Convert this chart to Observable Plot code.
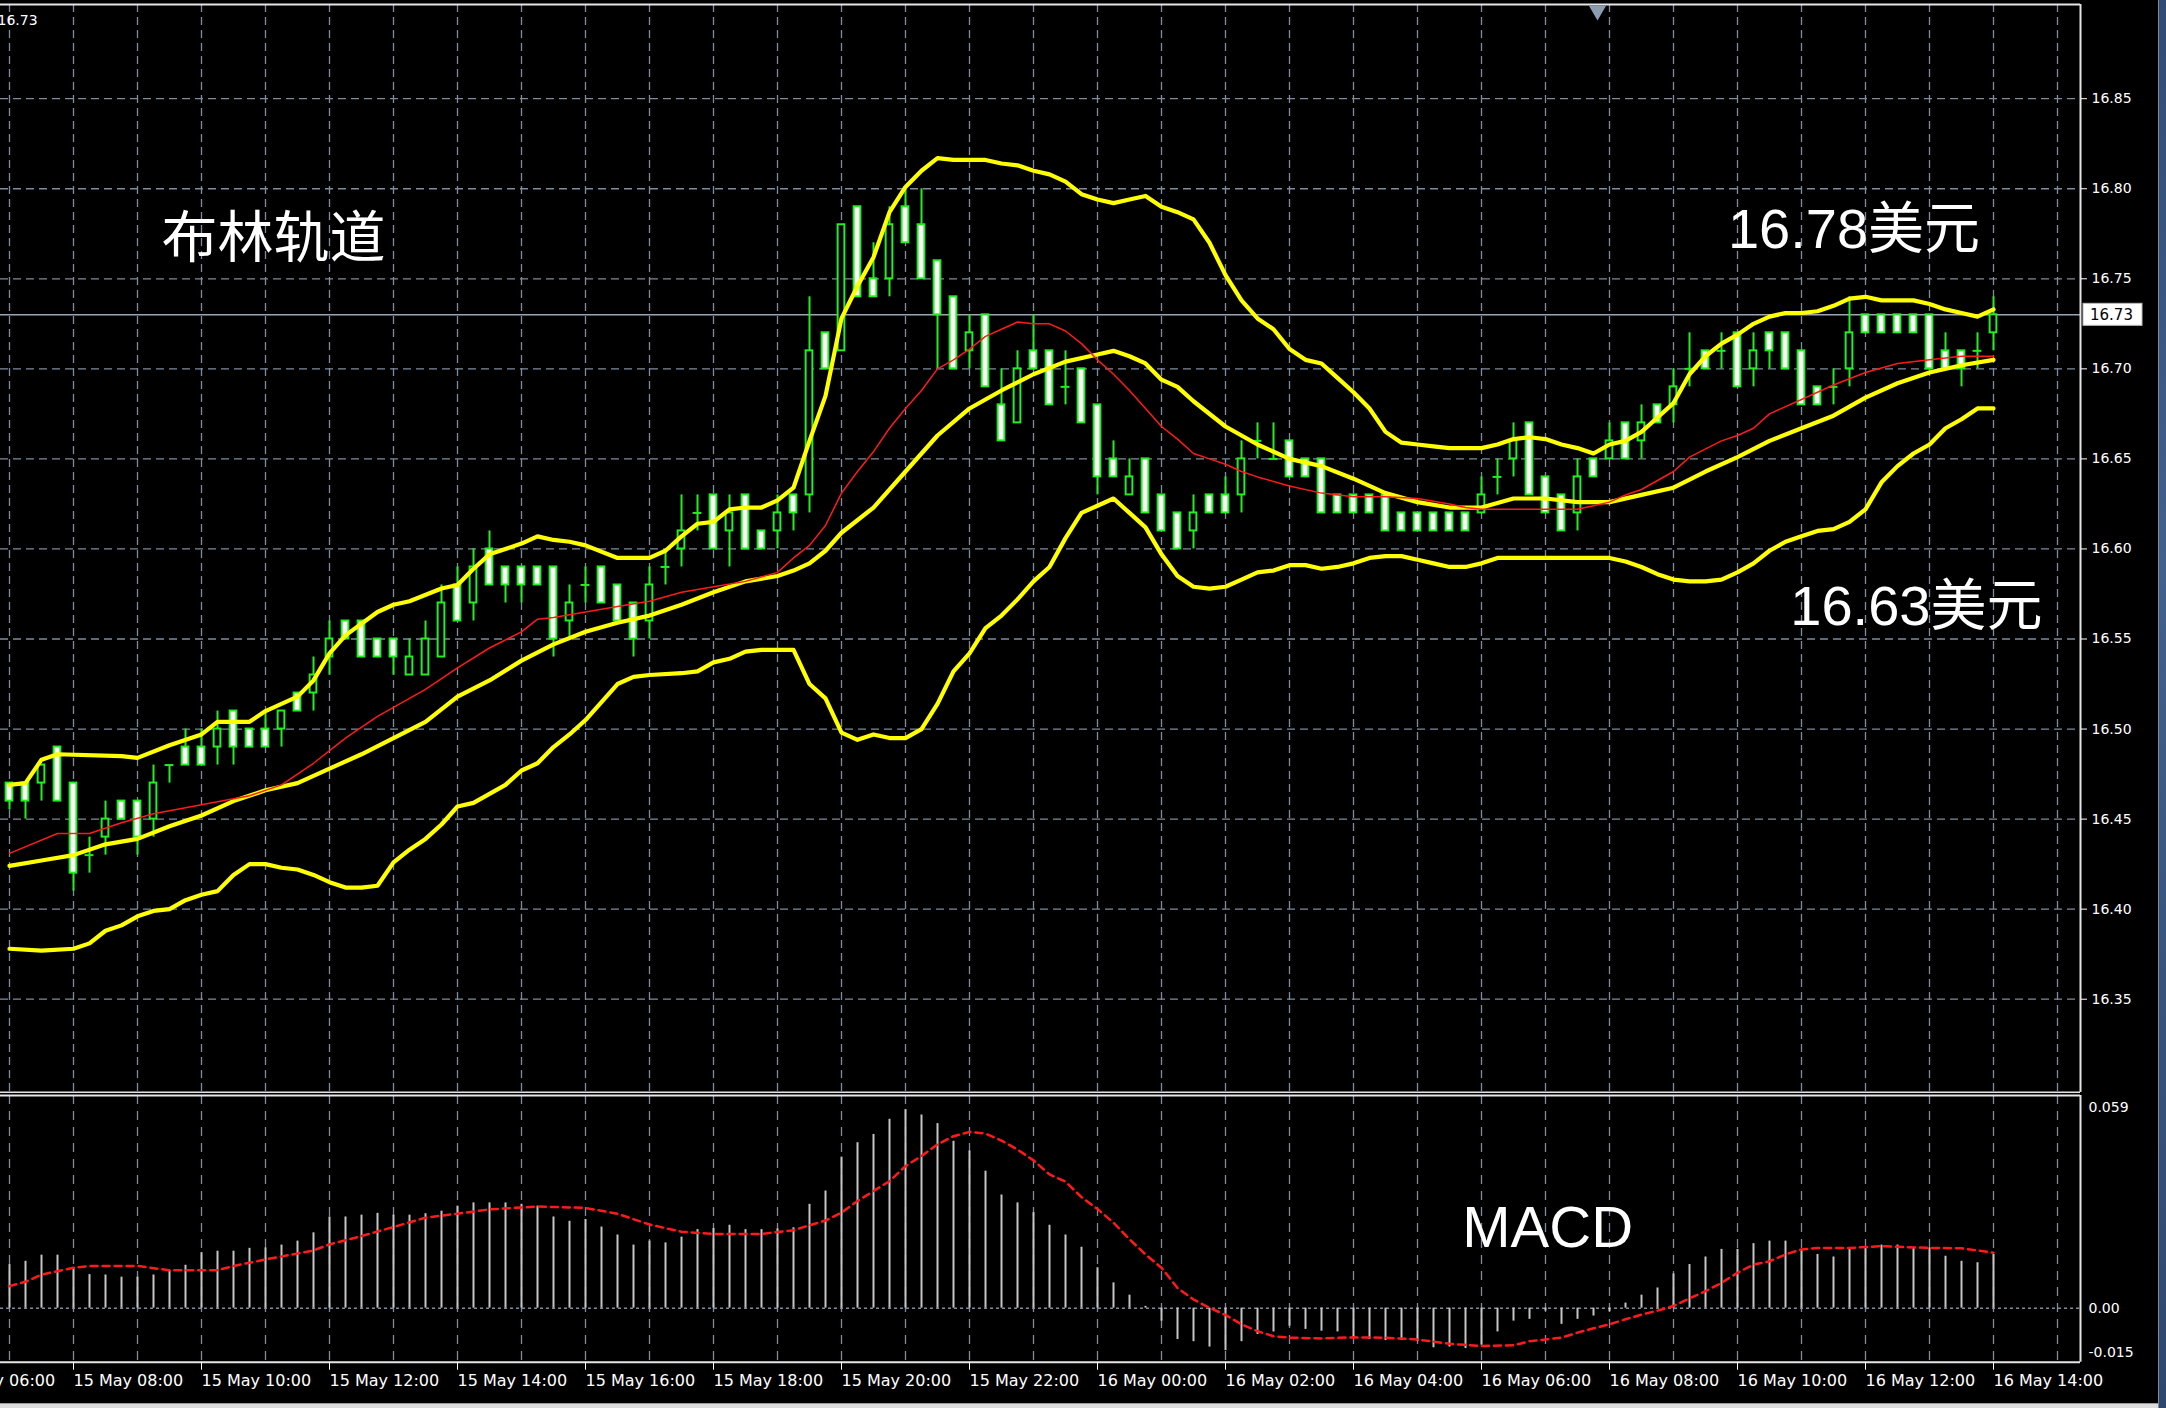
<!DOCTYPE html>
<html>
<head>
<meta charset="utf-8">
<script src="https://cdn.jsdelivr.net/npm/d3@7"></script>
<script src="https://cdn.jsdelivr.net/npm/@observablehq/plot@0.6"></script>
<style>
html, body { margin: 0; padding: 0; background: #000; }
#wrap { position: relative; width: 2166px; height: 1408px; background: #000; overflow: hidden; }
#main { position: absolute; left: 0; top: 0; }
#macd { position: absolute; left: 0; top: 1093px; }
#edge { position: absolute; left: 2158px; top: 0; width: 8px; height: 1408px; border-left: 1px solid #8a8a8a; background: linear-gradient(180deg, #2e4a78, #40608f 40%, #2c4670); }
#foot { position: absolute; left: 0; top: 1403px; width: 2158px; height: 5px; border-top: 1px solid #9a9a9a; background: #dcdcdc; }
</style>
</head>
<body>
<div id="wrap"><div id="main"></div><div id="macd"></div><div id="foot"></div><div id="edge"></div></div>
<script>
// ---------- DATA (15-minute bars, 15 May 07:00 -> 16 May 14:00) ----------
const open = [
16.47,16.47,16.47,16.49,16.47,16.43,16.44,16.46,16.46,16.45,
16.48,16.49,16.49,16.49,16.51,16.50,16.50,16.50,16.52,16.52,
16.54,16.56,16.56,16.55,16.55,16.53,16.53,16.54,16.58,16.57,
16.60,16.59,16.59,16.59,16.59,16.56,16.58,16.59,16.58,16.57,
16.56,16.59,16.60,16.62,16.63,16.61,16.63,16.61,16.61,16.63,
16.63,16.72,16.71,16.79,16.75,16.75,16.79,16.78,16.76,16.74,
16.71,16.73,16.68,16.67,16.71,16.71,16.69,16.70,16.68,16.65,
16.63,16.65,16.63,16.62,16.61,16.63,16.63,16.63,16.66,16.65,
16.66,16.65,16.65,16.63,16.63,16.63,16.63,16.62,16.62,16.62,
16.62,16.62,16.62,16.64,16.65,16.67,16.64,16.63,16.62,16.65,
16.65,16.67,16.66,16.68,16.68,16.70,16.71,16.71,16.72,16.70,
16.72,16.72,16.71,16.69,16.69,16.70,16.73,16.73,16.73,16.73,
16.73,16.71,16.71,16.71,16.72];
const high = [
16.47,16.47,16.48,16.49,16.47,16.44,16.46,16.46,16.46,16.48,
16.48,16.50,16.50,16.51,16.51,16.50,16.51,16.51,16.52,16.54,
16.56,16.56,16.56,16.55,16.55,16.55,16.56,16.58,16.59,16.60,
16.61,16.59,16.59,16.59,16.59,16.58,16.59,16.59,16.58,16.57,
16.59,16.60,16.63,16.63,16.63,16.63,16.63,16.61,16.63,16.63,
16.74,16.72,16.78,16.79,16.77,16.79,16.80,16.80,16.76,16.74,
16.73,16.73,16.70,16.71,16.73,16.71,16.71,16.70,16.68,16.66,
16.65,16.65,16.63,16.62,16.63,16.63,16.64,16.66,16.67,16.67,
16.66,16.65,16.65,16.63,16.63,16.63,16.63,16.62,16.62,16.62,
16.62,16.62,16.64,16.65,16.67,16.67,16.64,16.63,16.65,16.65,
16.67,16.67,16.68,16.68,16.70,16.72,16.71,16.72,16.72,16.72,
16.72,16.72,16.71,16.69,16.70,16.74,16.73,16.73,16.73,16.73,
16.73,16.72,16.71,16.72,16.74];
const low = [
16.455,16.45,16.46,16.46,16.41,16.42,16.43,16.45,16.43,16.44,
16.47,16.48,16.48,16.48,16.48,16.49,16.49,16.49,16.51,16.51,
16.53,16.55,16.54,16.54,16.53,16.53,16.53,16.54,16.56,16.56,
16.58,16.57,16.57,16.58,16.54,16.55,16.57,16.57,16.56,16.54,
16.55,16.58,16.59,16.61,16.60,16.59,16.60,16.60,16.60,16.61,
16.62,16.70,16.71,16.74,16.74,16.74,16.77,16.75,16.70,16.70,
16.70,16.69,16.66,16.67,16.70,16.68,16.68,16.67,16.63,16.64,
16.63,16.62,16.61,16.60,16.60,16.62,16.62,16.62,16.65,16.65,
16.64,16.64,16.62,16.62,16.62,16.62,16.61,16.61,16.61,16.61,
16.61,16.61,16.62,16.63,16.64,16.63,16.62,16.61,16.61,16.64,
16.65,16.65,16.65,16.67,16.67,16.69,16.70,16.70,16.69,16.69,
16.70,16.70,16.68,16.68,16.68,16.69,16.72,16.72,16.72,16.72,
16.70,16.70,16.69,16.70,16.71];
const close = [
16.46,16.46,16.48,16.46,16.42,16.43,16.45,16.45,16.44,16.47,
16.48,16.48,16.48,16.50,16.49,16.49,16.49,16.51,16.51,16.53,
16.55,16.55,16.54,16.54,16.54,16.54,16.55,16.57,16.56,16.59,
16.58,16.58,16.58,16.58,16.55,16.57,16.58,16.57,16.56,16.55,
16.58,16.59,16.61,16.62,16.60,16.62,16.60,16.60,16.62,16.62,
16.71,16.70,16.78,16.74,16.74,16.78,16.77,16.75,16.73,16.70,
16.72,16.69,16.66,16.70,16.70,16.68,16.69,16.67,16.64,16.64,
16.64,16.62,16.61,16.60,16.62,16.62,16.62,16.65,16.66,16.65,
16.64,16.64,16.62,16.62,16.62,16.62,16.61,16.61,16.61,16.61,
16.61,16.61,16.63,16.64,16.66,16.63,16.62,16.61,16.64,16.64,
16.66,16.65,16.67,16.67,16.69,16.70,16.70,16.71,16.69,16.71,
16.71,16.70,16.68,16.68,16.69,16.72,16.72,16.72,16.72,16.72,
16.70,16.70,16.70,16.71,16.73];

// Bollinger bands and moving average, read as [bar, price]
const upperBand = [[0,16.469],[1,16.470],[2,16.483],[3,16.486],[7,16.485],[8,16.484],[10,16.491],[12,16.497],[13,16.504],[15,16.504],[16,16.510],[18,16.518],[19,16.527],[20,16.542],[21,16.552],[23,16.565],[24,16.569],[25,16.571],[27,16.578],[28,16.580],[29,16.589],[30,16.597],[32,16.603],[33,16.607],[34,16.605],[35,16.604],[36,16.602],[38,16.595],[40,16.595],[41,16.599],[42,16.607],[43,16.614],[44,16.615],[45,16.622],[46,16.623],[47,16.623],[48,16.627],[49,16.634],[50,16.660],[51,16.685],[52,16.728],[53,16.746],[54,16.762],[55,16.787],[56,16.801],[57,16.810],[58,16.817],[59,16.816],[60,16.816],[61,16.816],[62,16.814],[63,16.813],[64,16.810],[65,16.808],[66,16.804],[67,16.797],[68,16.794],[69,16.792],[70,16.794],[71,16.796],[72,16.790],[73,16.787],[74,16.783],[75,16.770],[76,16.752],[77,16.738],[78,16.728],[79,16.722],[80,16.711],[81,16.705],[82,16.703],[83,16.695],[84,16.687],[85,16.678],[86,16.665],[87,16.659],[88,16.658],[89,16.657],[90,16.656],[92,16.656],[93,16.658],[94,16.661],[95,16.662],[96,16.661],[97,16.658],[98,16.656],[99,16.653],[100,16.658],[101,16.660],[102,16.665],[103,16.673],[104,16.681],[105,16.697],[106,16.707],[107,16.714],[108,16.719],[109,16.725],[110,16.729],[111,16.731],[112,16.731],[113,16.732],[114,16.735],[115,16.739],[116,16.740],[117,16.738],[118,16.738],[119,16.738],[120,16.736],[121,16.733],[122,16.731],[123,16.729],[124,16.733]];
const middleBand = [[0,16.424],[2,16.427],[4,16.430],[6,16.436],[8,16.439],[10,16.446],[12,16.452],[14,16.460],[16,16.466],[18,16.470],[20,16.478],[22,16.486],[24,16.495],[26,16.504],[28,16.518],[30,16.527],[32,16.538],[34,16.547],[36,16.554],[38,16.559],[40,16.563],[42,16.569],[44,16.576],[46,16.582],[48,16.585],[49,16.588],[50,16.592],[51,16.599],[52,16.609],[54,16.623],[56,16.643],[58,16.663],[60,16.678],[62,16.688],[64,16.697],[66,16.704],[68,16.708],[69,16.710],[70,16.707],[71,16.703],[72,16.694],[73,16.690],[74,16.682],[76,16.668],[78,16.658],[80,16.650],[82,16.646],[84,16.639],[86,16.631],[88,16.626],[90,16.623],[92,16.623],[94,16.628],[96,16.628],[98,16.626],[100,16.626],[102,16.630],[104,16.634],[106,16.643],[108,16.651],[110,16.660],[112,16.667],[114,16.674],[116,16.684],[118,16.692],[120,16.698],[122,16.702],[124,16.705]];
const lowerBand = [[0,16.378],[2,16.377],[4,16.378],[5,16.381],[6,16.388],[7,16.391],[8,16.396],[9,16.399],[10,16.400],[11,16.405],[12,16.408],[13,16.410],[14,16.419],[15,16.425],[16,16.425],[17,16.423],[18,16.422],[19,16.419],[20,16.415],[21,16.412],[22,16.412],[23,16.413],[24,16.426],[25,16.433],[26,16.439],[27,16.447],[28,16.457],[29,16.459],[30,16.464],[31,16.469],[32,16.477],[33,16.481],[34,16.490],[35,16.497],[36,16.505],[37,16.515],[38,16.525],[39,16.529],[40,16.530],[42,16.531],[43,16.532],[44,16.537],[45,16.539],[46,16.543],[47,16.544],[48,16.544],[49,16.544],[50,16.525],[51,16.517],[52,16.498],[53,16.494],[54,16.497],[55,16.495],[56,16.495],[57,16.500],[58,16.514],[59,16.532],[60,16.542],[61,16.556],[62,16.563],[63,16.572],[64,16.582],[65,16.590],[66,16.606],[67,16.620],[68,16.624],[69,16.628],[70,16.620],[71,16.612],[72,16.597],[73,16.585],[74,16.579],[75,16.578],[76,16.579],[77,16.583],[78,16.587],[79,16.588],[80,16.591],[81,16.591],[82,16.589],[83,16.590],[84,16.592],[85,16.595],[86,16.596],[87,16.596],[88,16.594],[89,16.592],[90,16.590],[91,16.590],[92,16.592],[93,16.595],[96,16.595],[98,16.595],[100,16.595],[101,16.593],[102,16.590],[103,16.586],[104,16.583],[105,16.582],[106,16.582],[107,16.583],[108,16.587],[109,16.592],[110,16.599],[111,16.604],[112,16.607],[113,16.610],[114,16.611],[115,16.615],[116,16.622],[117,16.637],[118,16.646],[119,16.653],[120,16.658],[121,16.667],[122,16.672],[123,16.678],[124,16.678]];
const movingAverage = [[0,16.431],[3,16.442],[5,16.442],[7,16.448],[9,16.453],[12,16.458],[15,16.463],[17,16.469],[19,16.481],[21,16.495],[23,16.507],[26,16.522],[28,16.534],[30,16.545],[32,16.554],[33,16.561],[34,16.562],[36,16.565],[38,16.568],[40,16.571],[42,16.576],[44,16.579],[46,16.582],[48,16.587],[49,16.595],[50,16.602],[51,16.613],[52,16.631],[53,16.643],[54,16.654],[55,16.667],[56,16.678],[57,16.688],[58,16.700],[59,16.705],[60,16.711],[61,16.718],[62,16.722],[63,16.726],[64,16.725],[65,16.725],[66,16.721],[67,16.714],[68,16.705],[69,16.697],[70,16.688],[71,16.678],[72,16.668],[73,16.661],[74,16.653],[75,16.650],[76,16.647],[77,16.643],[78,16.640],[80,16.635],[82,16.631],[84,16.629],[86,16.629],[88,16.628],[90,16.625],[91,16.623],[92,16.622],[98,16.622],[99,16.624],[100,16.626],[101,16.630],[102,16.633],[104,16.643],[105,16.651],[107,16.660],[108,16.663],[109,16.667],[110,16.675],[112,16.683],[113,16.687],[114,16.691],[116,16.698],[118,16.703],[120,16.705],[122,16.707],[124,16.707]];

// MACD histogram (one value per bar) and signal line [bar, value]
const macdHistogram = [
0.0121,0.0130,0.0147,0.0147,0.0112,0.0093,0.0092,0.0086,0.0086,0.0092,
0.0105,0.0119,0.0154,0.0158,0.0158,0.0166,0.0167,0.0175,0.0186,0.0209,
0.0253,0.0253,0.0258,0.0263,0.0258,0.0258,0.0262,0.0269,0.0283,0.0292,
0.0292,0.0292,0.0288,0.0283,0.0253,0.0241,0.0246,0.0225,0.0203,0.0175,
0.0186,0.0181,0.0197,0.0218,0.0221,0.0230,0.0218,0.0218,0.0220,0.0223,
0.0288,0.0325,0.0419,0.0459,0.0482,0.0524,0.0551,0.0536,0.0512,0.0463,
0.0436,0.0380,0.0314,0.0292,0.0265,0.0230,0.0203,0.0169,0.0112,0.0070,
0.0036,0.0005,-0.0036,-0.0087,-0.0093,-0.0108,-0.0118,-0.0093,-0.0073,-0.0066,
-0.0050,-0.0059,-0.0064,-0.0066,-0.0082,-0.0087,-0.0090,-0.0090,-0.0093,-0.0110,
-0.0108,-0.0112,-0.0103,-0.0066,-0.0036,-0.0031,-0.0008,-0.0045,-0.0031,-0.0022,
-0.0010,0.0014,0.0036,0.0056,0.0095,0.0121,0.0142,0.0163,0.0163,0.0179,
0.0186,0.0186,0.0160,0.0149,0.0142,0.0167,0.0167,0.0175,0.0175,0.0167,
0.0167,0.0144,0.0130,0.0126,0.0149];
const macdSignal = [[0,0.0061],[1,0.0073],[2,0.0093],[4,0.0112],[5,0.0117],[8,0.0117],[10,0.0105],[13,0.0105],[14,0.0117],[16,0.0135],[19,0.0160],[20,0.0177],[22,0.0200],[24,0.0225],[26,0.0251],[28,0.0262],[30,0.0274],[33,0.0282],[36,0.0278],[38,0.0262],[40,0.0232],[42,0.0212],[44,0.0206],[47,0.0206],[49,0.0216],[50,0.0230],[51,0.0243],[52,0.0265],[53,0.0297],[54,0.0325],[55,0.0352],[56,0.0394],[57,0.0422],[58,0.0454],[59,0.0477],[60,0.0489],[61,0.0484],[62,0.0465],[63,0.0440],[64,0.0410],[65,0.0371],[66,0.0351],[67,0.0308],[68,0.0275],[69,0.0237],[70,0.0191],[71,0.0149],[72,0.0112],[73,0.0056],[74,0.0024],[75,0.0001],[76,-0.0019],[77,-0.0045],[78,-0.0064],[79,-0.0078],[80,-0.0082],[82,-0.0084],[84,-0.0081],[86,-0.0082],[88,-0.0087],[90,-0.0099],[92,-0.0105],[94,-0.0103],[95,-0.0092],[96,-0.0087],[97,-0.0082],[98,-0.0068],[99,-0.0056],[100,-0.0045],[101,-0.0031],[102,-0.0018],[103,-0.0007],[104,0.0006],[105,0.0027],[106,0.0047],[107,0.0070],[108,0.0098],[109,0.0121],[110,0.0130],[111,0.0149],[112,0.0163],[113,0.0167],[115,0.0167],[117,0.0172],[120,0.0167],[122,0.0166],[124,0.0154]];

// Axis ticks and labels
const priceTicks = [16.35, 16.40, 16.45, 16.50, 16.55, 16.60, 16.65, 16.70, 16.75, 16.80, 16.85];
const timeTickLabels = ["15 May 06:00","15 May 08:00","15 May 10:00","15 May 12:00","15 May 14:00","15 May 16:00","15 May 18:00","15 May 20:00","15 May 22:00","16 May 00:00","16 May 02:00","16 May 04:00","16 May 06:00","16 May 08:00","16 May 10:00","16 May 12:00","16 May 14:00"];
const macdTicks = [0.059, 0, -0.015];
const macdTickLabels = ["0.059", "0.00", "-0.015"];
const chartShiftBar = [99.25];

// Annotations (anchored at bar, value)
const priceNotes = [
  {text: "布林轨道", bar: 9.5, price: 16.772},
  {text: "16.78美元", bar: 107.4, price: 16.777},
  {text: "16.63美元", bar: 111.3, price: 16.568}
];
const macdNotes = [{text: "MACD", bar: 90.8, value: 0.0221}];

// ---------- CHART ----------
const lime = "#22ee22", yellow = "#ffff00", red = "#ff1a1a", gridColor = "#7d8c9e", frameColor = "#e6e6e6";
const START = Date.UTC(2017, 4, 15, 7, 0);
const STEP = 15 * 60 * 1000;
const barTime = i => new Date(START + i * STEP);
const shiftSec = (t, s) => new Date(+t + s * 1000);
const xDomain = [barTime(-0.5625), barTime(129.4375)];
const hours = d3.utcHour.range(barTime(0), barTime(128.5));
const parseLabel = d3.utcParse("%d %b %H:%M %Y");
const tickDates = timeTickLabels.map(s => parseLabel(s + " 2017"));
const labelByTime = new Map(tickDates.map((d, k) => [+d, timeTickLabels[k]]));

const candles = close.map((c, i) => ({t: barTime(i), open: open[i], high: high[i], low: low[i], close: c}));
const bull = candles.filter(d => d.close > d.open);
const bear = candles.filter(d => d.close < d.open);
const doji = candles.filter(d => d.close === d.open);
const asLine = arr => arr.map(([i, v]) => ({t: barTime(i), v}));
const lastClose = close[close.length - 1];

const yDomain = [16.2982, 16.9023];
const txtFont = "'Liberation Sans', 'Noto Sans CJK SC', sans-serif";

const main = Plot.plot({
  width: 2166, height: 1093,
  marginLeft: 0, marginRight: 86, marginTop: 4, marginBottom: 1,
  style: {background: "#000", color: "#fff", fontFamily: "'DejaVu Sans', sans-serif", overflow: "hidden"},
  x: {type: "utc", domain: xDomain, axis: null},
  y: {domain: yDomain, axis: null},
  marks: [
    Plot.ruleY(priceTicks, {stroke: gridColor, strokeWidth: 1.3, strokeDasharray: "8,5"}),
    Plot.ruleX(hours, {stroke: gridColor, strokeWidth: 1.3, strokeDasharray: "8,5"}),
    Plot.ruleY([lastClose], {stroke: "#9aa6b4", strokeWidth: 1.5}),
    Plot.ruleX(candles, {x: "t", y1: "low", y2: "high", stroke: lime, strokeWidth: 2}),
    Plot.rect(bear, {x1: d => shiftSec(d.t, -190), x2: d => shiftSec(d.t, 190), y1: "open", y2: "close", fill: "#fff", stroke: lime, strokeWidth: 2}),
    Plot.rect(bull, {x1: d => shiftSec(d.t, -190), x2: d => shiftSec(d.t, 190), y1: "open", y2: "close", fill: "#000", stroke: lime, strokeWidth: 2}),
    Plot.ruleY(doji, {y: "close", x1: d => shiftSec(d.t, -250), x2: d => shiftSec(d.t, 250), stroke: lime, strokeWidth: 2}),
    Plot.line(asLine(upperBand), {x: "t", y: "v", stroke: yellow, strokeWidth: 4.2}),
    Plot.line(asLine(middleBand), {x: "t", y: "v", stroke: yellow, strokeWidth: 4.2}),
    Plot.line(asLine(lowerBand), {x: "t", y: "v", stroke: yellow, strokeWidth: 4.2}),
    Plot.line(asLine(movingAverage), {x: "t", y: "v", stroke: red, strokeWidth: 1.5}),
    Plot.ruleY([yDomain[1]], {stroke: frameColor, strokeWidth: 2}),
    Plot.ruleY([yDomain[0]], {stroke: frameColor, strokeWidth: 2}),
    Plot.ruleX([xDomain[1]], {stroke: frameColor, strokeWidth: 2}),
    Plot.dot(chartShiftBar, {x: d => barTime(d), frameAnchor: "top", dy: 6, symbol: "triangle", rotate: 180, r: 6.5, fill: "#8b9bb0", stroke: "none"}),
    Plot.axisY({anchor: "right", ticks: priceTicks, tickFormat: d => d.toFixed(2), tickSize: 6, tickPadding: 5, fontSize: 14, label: null}),
    Plot.text(priceNotes, {x: d => barTime(d.bar), y: "price", text: "text", textAnchor: "start", lineAnchor: "middle", fontSize: 56, fill: "#fff", fontFamily: txtFont}),
    Plot.text([lastClose], {frameAnchor: "top-left", text: d => d.toFixed(2), textAnchor: "start", dx: -3, dy: 11, fontSize: 14, fill: "#fff"})
  ]
});

// current price box on the axis
{
  const svg = d3.select(main);
  const yS = main.scale("y"), xS = main.scale("x");
  const py = yS.apply(lastClose), px = xS.range[1];
  const g = svg.append("g");
  g.append("rect").attr("x", px + 3).attr("y", py - 11).attr("width", 59).attr("height", 22).attr("fill", "#fff").attr("stroke", "#bbb");
  g.append("text").attr("x", px + 10).attr("y", py).attr("dy", "0.35em").attr("text-anchor", "start").attr("font-size", 15).attr("font-family", "DejaVu Sans").attr("fill", "#000").text(lastClose.toFixed(2));
}
document.getElementById("main").appendChild(main);

const macdLabelData = macdTicks.map((v, k) => ({v, label: macdTickLabels[k]}));
const macd = Plot.plot({
  width: 2166, height: 315,
  marginLeft: 0, marginRight: 86, marginTop: 2, marginBottom: 46.3,
  style: {background: "#000", color: "#fff", fontFamily: "'DejaVu Sans', sans-serif", overflow: "hidden"},
  x: {type: "utc", domain: xDomain, axis: null},
  y: {domain: [-0.015, 0.059], axis: null},
  marks: [
    Plot.ruleX(hours, {stroke: gridColor, strokeWidth: 1.3, strokeDasharray: "9,7"}),
    Plot.ruleY([0], {stroke: gridColor, strokeWidth: 1.5, strokeDasharray: "3,3"}),
    Plot.ruleX(macdHistogram, {x: (d, i) => barTime(i), y1: 0, y2: d => d, stroke: "#c4c4c4", strokeWidth: 2}),
    Plot.line(asLine(macdSignal), {x: "t", y: "v", stroke: red, strokeWidth: 2.5, strokeDasharray: "7,5"}),
    Plot.ruleY([0.059], {stroke: frameColor, strokeWidth: 2}),
    Plot.ruleY([-0.015], {stroke: frameColor, strokeWidth: 2}),
    Plot.ruleX([xDomain[1]], {stroke: frameColor, strokeWidth: 2}),
    Plot.axisX({anchor: "bottom", ticks: tickDates, tickFormat: d => labelByTime.get(+d), textAnchor: "start", tickSize: 8, tickPadding: 4, fontSize: 16, label: null}),
    Plot.text(macdLabelData.filter((d, k) => k === 0), {x: () => xDomain[1], y: "v", text: "label", textAnchor: "start", lineAnchor: "top", dx: 8, dy: 7, fontSize: 14, fill: "#fff"}),
    Plot.text(macdLabelData.filter((d, k) => k === 1), {x: () => xDomain[1], y: "v", text: "label", textAnchor: "start", lineAnchor: "middle", dx: 8, fontSize: 14, fill: "#fff"}),
    Plot.text(macdLabelData.filter((d, k) => k === 2), {x: () => xDomain[1], y: "v", text: "label", textAnchor: "start", lineAnchor: "bottom", dx: 8, dy: -5, fontSize: 14, fill: "#fff"}),
    Plot.text(macdNotes, {x: d => barTime(d.bar), y: "value", text: "text", textAnchor: "start", lineAnchor: "middle", fontSize: 58, fill: "#fff", fontFamily: txtFont})
  ]
});
document.getElementById("macd").appendChild(macd);
</script>
</body>
</html>
